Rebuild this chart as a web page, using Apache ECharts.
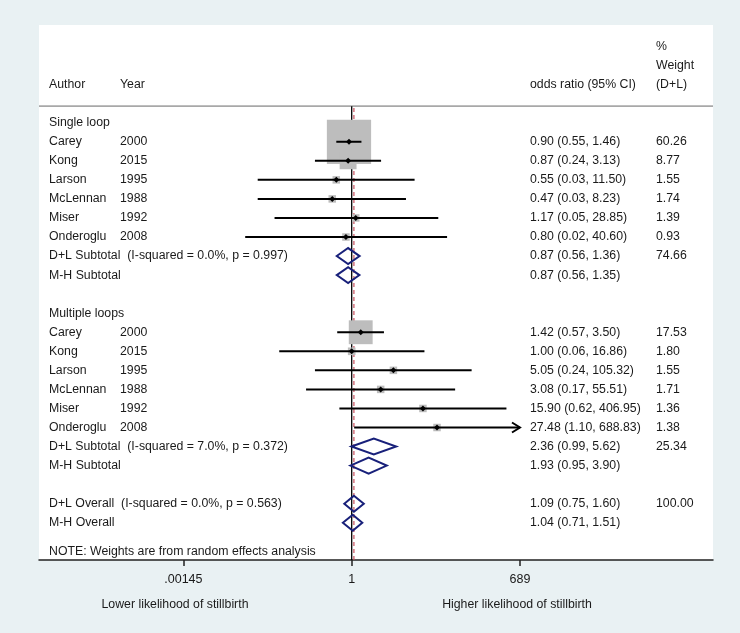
<!DOCTYPE html>
<html><head><meta charset="utf-8">
<script src="https://cdn.jsdelivr.net/npm/echarts@6/dist/echarts.min.js"></script>
<style>html,body{margin:0;padding:0;background:#e9f1f3}#c{width:740px;height:633px}</style>
</head><body><div id="c"></div>
<script>
// ---------- data ----------
const groupRows = [0, 10];
const groupLabels = ['Single loop', 'Multiple loops'];

const studyRows = [1, 2, 3, 4, 5, 6, 11, 12, 13, 14, 15, 16];
const studyAuthors = ['Carey', 'Kong', 'Larson', 'McLennan', 'Miser', 'Onderoglu',
                      'Carey', 'Kong', 'Larson', 'McLennan', 'Miser', 'Onderoglu'];
const studyYears = ['2000', '2015', '1995', '1988', '1992', '2008',
                    '2000', '2015', '1995', '1988', '1992', '2008'];
const studyOR   = [0.90, 0.87, 0.55, 0.47, 1.17, 0.80, 1.42, 1.00, 5.05, 3.08, 15.90, 27.48];
const studyLow  = [0.55, 0.24, 0.026, 0.026, 0.05, 0.016, 0.57, 0.06, 0.24, 0.17, 0.62, 1.10];
const studyHigh = [1.46, 3.13, 11.50, 8.23, 28.85, 40.60, 3.50, 16.86, 105.32, 55.51, 406.95, 688.83];
const studyWeight = [60.26, 8.77, 1.55, 1.74, 1.39, 0.93, 17.53, 1.80, 1.55, 1.71, 1.36, 1.38];
const studyCIText = ['0.90 (0.55, 1.46)', '0.87 (0.24, 3.13)', '0.55 (0.03, 11.50)', '0.47 (0.03, 8.23)',
                     '1.17 (0.05, 28.85)', '0.80 (0.02, 40.60)', '1.42 (0.57, 3.50)', '1.00 (0.06, 16.86)',
                     '5.05 (0.24, 105.32)', '3.08 (0.17, 55.51)', '15.90 (0.62, 406.95)', '27.48 (1.10, 688.83)'];
const studyWeightText = ['60.26', '8.77', '1.55', '1.74', '1.39', '0.93',
                         '17.53', '1.80', '1.55', '1.71', '1.36', '1.38'];

const poolRows = [7, 8, 17, 18, 20, 21];
const poolLabels = ['D+L Subtotal  (I-squared = 0.0%, p = 0.997)', 'M-H Subtotal',
                    'D+L Subtotal  (I-squared = 7.0%, p = 0.372)', 'M-H Subtotal',
                    'D+L Overall  (I-squared = 0.0%, p = 0.563)', 'M-H Overall'];
const poolOR   = [0.87, 0.87, 2.36, 1.93, 1.09, 1.04];
const poolLow  = [0.56, 0.56, 0.99, 0.95, 0.75, 0.71];
const poolHigh = [1.36, 1.35, 5.62, 3.90, 1.60, 1.51];
const poolCIText = ['0.87 (0.56, 1.36)', '0.87 (0.56, 1.35)', '2.36 (0.99, 5.62)',
                    '1.93 (0.95, 3.90)', '1.09 (0.75, 1.60)', '1.04 (0.71, 1.51)'];
const poolWeightText = ['74.66', '', '25.34', '', '100.00', ''];

const overallOR = 1.09;
const nullOR = 1;
const arrowLimit = 689;

const noteRow = 22.5;
const noteText = 'NOTE: Weights are from random effects analysis';

const headerRows = [-4, -3, -2];
const headerLeft = ['', '', 'Author|Year'];
const headerCI = ['', '', 'odds ratio (95% CI)'];
const headerWeight = ['%', 'Weight', '(D+L)'];

const tickValues = [0.00145, 1, 689];
const tickLabels = ['.00145', '1', '689'];
const axisTitles = ['Lower likelihood of stillbirth', 'Higher likelihood of stillbirth'];

// ---------- layout constants ----------
const X_MIN = 5.33e-6, X_MAX = 1.239e6;
const Y_MIN = -5.129, Y_MAX = 22.955, SEP_ROW = -0.87;
const FONT = 'Liberation Sans';
const TXT = '#1a1a1a';
const lg = Math.log10;
const key = v => String(Math.round(v * 100));

// ---------- label maps ----------
const leftMap = {}, rightMap = {};
headerRows.forEach((r, i) => {
  if (headerLeft[i]) { const p = headerLeft[i].split('|'); leftMap[key(r)] = '{a|' + p[0] + '}{b|' + p[1] + '}'; }
  rightMap[key(r)] = '{c|' + (headerCI[i] || ' ') + '}{w|' + headerWeight[i] + '}';
});
groupRows.forEach((r, i) => { leftMap[key(r)] = groupLabels[i]; });
studyRows.forEach((r, i) => {
  leftMap[key(r)] = '{a|' + studyAuthors[i] + '}{b|' + studyYears[i] + '}';
  rightMap[key(r)] = '{c|' + studyCIText[i] + '}{w|' + studyWeightText[i] + '}';
});
poolRows.forEach((r, i) => {
  leftMap[key(r)] = poolLabels[i];
  rightMap[key(r)] = '{c|' + poolCIText[i] + '}' + (poolWeightText[i] ? '{w|' + poolWeightText[i] + '}' : '');
});
leftMap[key(noteRow)] = noteText;
const leftVals = Object.keys(leftMap).map(k => +k / 100);
const rightVals = Object.keys(rightMap).map(k => +k / 100);

const studyData = studyRows.map((r, i) => [r, lg(studyOR[i]), lg(studyLow[i]), lg(studyHigh[i]), studyWeight[i]]);
const poolData = poolRows.map((r, i) => [r, lg(poolOR[i]), lg(poolLow[i]), lg(poolHigh[i])]);

const textBase = { fontFamily: FONT, fontSize: 12.3, color: TXT };

const option = {
  animation: false,
  backgroundColor: '#e9f1f3',
  grid: { left: 39, right: 27, top: 25, bottom: 73, show: true, backgroundColor: '#ffffff', borderWidth: 0, outerBoundsMode: 'none' },
  xAxis: {
    type: 'value', min: lg(X_MIN), max: lg(X_MAX),
    splitLine: { show: false },
    axisLine: { show: true, onZero: false, lineStyle: { color: '#222', width: 1.5 } },
    axisTick: { show: true, customValues: tickValues.map(lg), length: 6, lineStyle: { color: '#222', width: 1.5 } },
    axisLabel: {
      customValues: tickValues.map(lg), margin: 13, ...textBase, fontSize: 12.5,
      formatter: v => { let bi = 0; tickValues.forEach((t, i) => { if (Math.abs(lg(t) - v) < Math.abs(lg(tickValues[bi]) - v)) bi = i; }); return tickLabels[bi]; }
    }
  },
  yAxis: [
    {
      type: 'value', inverse: true, min: Y_MIN, max: Y_MAX, position: 'left',
      splitLine: { show: false }, axisLine: { show: false, onZero: false }, axisTick: { show: false },
      axisLabel: {
        inside: true, margin: 10, align: 'left', customValues: leftVals, ...textBase,
        formatter: v => leftMap[key(v)] || '',
        rich: { a: { width: 71, ...textBase }, b: { ...textBase } }
      }
    },
    {
      type: 'value', inverse: true, min: Y_MIN, max: Y_MAX, position: 'right',
      splitLine: { show: false }, axisLine: { show: false, onZero: false }, axisTick: { show: false },
      axisLabel: {
        inside: true, margin: 183, align: 'left', customValues: rightVals, ...textBase,
        formatter: v => rightMap[key(v)] || '',
        rich: { c: { width: 126, ...textBase }, w: { ...textBase } }
      }
    }
  ],
  graphic: [
    { type: 'text', x: 175, y: 605, style: { text: axisTitles[0], align: 'center', verticalAlign: 'middle', fontFamily: FONT, fontSize: 12.3, fill: TXT } },
    { type: 'text', x: 517, y: 605, style: { text: axisTitles[1], align: 'center', verticalAlign: 'middle', fontFamily: FONT, fontSize: 12.3, fill: TXT } }
  ],
  series: [
    { // header separator
      type: 'line', z: 1, silent: true, symbol: 'none',
      data: [[lg(X_MIN), SEP_ROW], [lg(X_MAX), SEP_ROW]],
      lineStyle: { color: '#a8a8a8', width: 1.8 }
    },
    { // null line
      type: 'line', z: 2, silent: true, symbol: 'none',
      data: [[lg(nullOR), SEP_ROW], [lg(nullOR), Y_MAX]],
      lineStyle: { color: '#000', width: 1.3 }
    },
    { // overall effect line
      type: 'line', z: 2, silent: true, symbol: 'none',
      data: [[lg(overallOR), SEP_ROW + 0.1], [lg(overallOR), Y_MAX]],
      lineStyle: { color: '#c8505e', width: 1.2, type: [4, 3] }
    },
    { // weight boxes
      type: 'custom', z: 3, silent: true, data: studyData,
      renderItem: (params, api) => {
        const c = api.coord([api.value(1), api.value(0)]);
        const s = Math.max(5.7 * Math.sqrt(api.value(4)), 7.5);
        return { type: 'rect', shape: { x: c[0] - s / 2, y: c[1] - s / 2, width: s, height: s }, style: { fill: '#bdbdbd' } };
      }
    },
    { // CI lines and point estimates
      type: 'custom', z: 4, silent: true, data: studyData,
      renderItem: (params, api) => {
        const row = api.value(0);
        const c = api.coord([api.value(1), row]);
        const pl = api.coord([api.value(2), row]);
        const ph = api.coord([api.value(3), row]);
        const d = 3;
        const ch = [
          { type: 'line', shape: { x1: pl[0], y1: c[1], x2: ph[0], y2: c[1] }, style: { stroke: '#000', lineWidth: 2 } },
          { type: 'polygon', shape: { points: [[c[0] - d, c[1]], [c[0], c[1] - d], [c[0] + d, c[1]], [c[0], c[1] + d]] }, style: { fill: '#000' } }
        ];
        if (api.value(3) >= lg(arrowLimit) - 0.01) {
          ch.push({ type: 'polyline', shape: { points: [[ph[0] - 8, c[1] - 5], [ph[0], c[1]], [ph[0] - 8, c[1] + 5]] }, style: { stroke: '#000', lineWidth: 2, fill: null } });
        }
        return { type: 'group', children: ch };
      }
    },
    { // pooled diamonds
      type: 'custom', z: 5, silent: true, data: poolData,
      renderItem: (params, api) => {
        const row = api.value(0);
        const c = api.coord([api.value(1), row]);
        const pl = api.coord([api.value(2), row]);
        const ph = api.coord([api.value(3), row]);
        const h = 8;
        return { type: 'polygon', shape: { points: [[pl[0], c[1]], [c[0], c[1] - h], [ph[0], c[1]], [c[0], c[1] + h]] },
                 style: { fill: null, stroke: '#18207a', lineWidth: 2, lineJoin: 'miter' } };
      }
    }
  ]
};

const chart = echarts.init(document.getElementById('c'), null, { renderer: 'canvas' });
chart.setOption(option);
</script>
</body></html>
